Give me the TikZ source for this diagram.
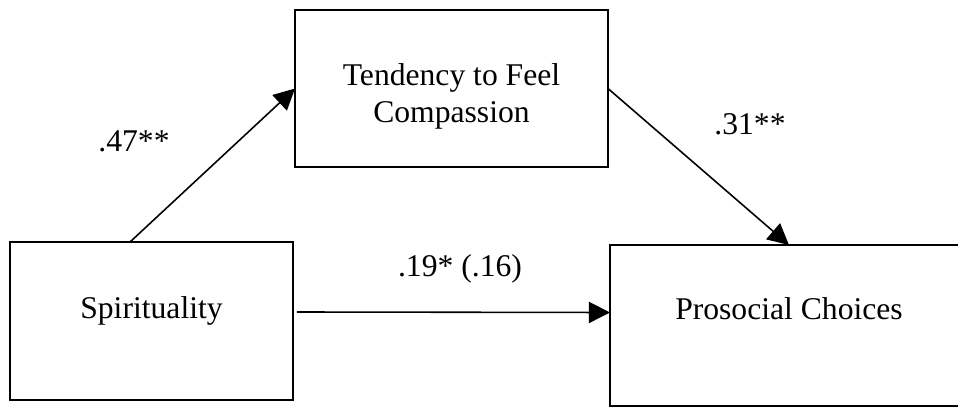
\documentclass[tikz,border=0pt]{standalone}
\usepackage{fontspec}
\setmainfont{Liberation Serif}
\usetikzlibrary{arrows.meta}
\begin{document}
\begin{tikzpicture}[x=0.02cm,y=-0.02cm,
    box/.style={draw,line width=1.1pt,inner sep=0pt,outer sep=0pt},
    arr/.style={-{Triangle[length=12pt,width=12pt]},line width=0.9pt},
    txt/.style={font=\fontsize{18}{21}\selectfont,align=center}]
        \useasboundingbox (0,0) rectangle (958,408);

        \node[box,minimum width=5.66cm,minimum height=3.16cm] (spirit) at (151.5,321) {};
        \node[box,minimum width=6.26cm,minimum height=3.14cm] (compassion) at (451.5,88.5) {};
        \node[box,minimum width=7.16cm,minimum height=3.22cm] (prosocial) at (789,325.5) {};

        \node[txt,anchor=base] (spiritText) at (151.5,319) {Spirituality};
        \node[txt] (compassionText) at (451.5,96) {Tendency to Feel\\Compassion};
        \node[txt,anchor=base] (prosocialText) at (789,320) {Prosocial Choices};

        \draw[arr] ([xshift=-0.43cm]spirit.north) -- (compassion.west);
        \draw[arr] (compassion.east) -- (prosocial.north);
        \draw[arr] ([shift={(4,-9)}]spirit.east) -- ([shift={(0,-13)}]prosocial.west);

        \node[txt,anchor=base] (pathA) at (134,152) {.47**};
        \node[txt,anchor=base] (pathB) at (750,135) {.31**};
        \node[txt,anchor=base] (pathC) at (460,277) {.19* (.16)};
      \end{tikzpicture}
\end{document}
